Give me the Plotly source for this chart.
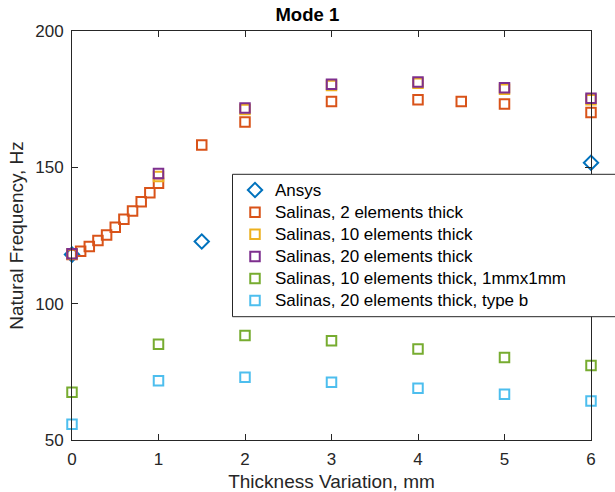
import plotly.graph_objects as go

# Thickness variation (mm) and first-mode natural frequency (Hz)
thickness_ansys = [0, 1.5, 6]
freq_ansys = [118.0, 122.8, 151.7]

thickness_2el = [0, 0.1, 0.2, 0.3, 0.4, 0.5, 0.6, 0.7, 0.8, 0.9, 1.0, 1.5, 2, 3, 4, 4.5, 5, 6]
freq_2el = [118.0, 119.2, 121.0, 123.2, 125.2, 128.0, 131.0, 134.0, 137.4, 140.7, 144.2,
            158.2, 166.6, 174.1, 174.8, 174.1, 173.2, 170.1]

thickness_fine = [0, 1, 2, 3, 4, 5, 6]
freq_10el = [118.2, 146.6, 171.2, 180.0, 180.8, 178.6, 174.8]
freq_20el = [118.3, 147.7, 171.8, 180.5, 181.3, 179.2, 175.3]
freq_10el_1mm = [67.5, 85.1, 88.3, 86.4, 83.4, 80.3, 77.3]
freq_20el_b = [55.8, 71.7, 73.0, 71.2, 69.0, 66.8, 64.3]

x_ticks = [0, 1, 2, 3, 4, 5, 6]
y_ticks = [50, 100, 150, 200]

FONT = "Liberation Sans, Arial, Helvetica, sans-serif"
INK = "#262626"

series = [
    ("Ansys", thickness_ansys, freq_ansys, "#0072BD", "diamond-open", 11),
    ("Salinas, 2 elements thick", thickness_2el, freq_2el, "#D95319", "square-open", 9.5),
    ("Salinas, 10 elements thick", thickness_fine, freq_10el, "#EDB120", "square-open", 9.5),
    ("Salinas, 20 elements thick", thickness_fine, freq_20el, "#7E2F8E", "square-open", 9.5),
    ("Salinas, 10 elements thick, 1mmx1mm", thickness_fine, freq_10el_1mm, "#77AC30", "square-open", 9.5),
    ("Salinas, 20 elements thick, type b", thickness_fine, freq_20el_b, "#4DBEEE", "square-open", 9.5),
]

fig = go.Figure()
for name, xs, ys, color, symbol, size in series:
    fig.add_trace(go.Scatter(
        x=xs, y=ys, mode="markers", cliponaxis=False,
        # legend rows are spaced by the legend font; the label itself is a bit larger
        name=f'<span style="font-size:17px">{name}</span>',
        marker=dict(symbol=symbol, size=size, color=color,
                    line=dict(color=color, width=2)),
    ))

axis_common = dict(
    showline=True, linecolor=INK, linewidth=1, mirror="ticks",
    ticks="inside", ticklen=6, tickwidth=1, tickcolor=INK,
    showgrid=False, zeroline=False, layer="above traces", automargin=False,
    tickfont=dict(family=FONT, size=17, color=INK),
)

fig.update_layout(
    width=615, height=492,
    margin=dict(l=72, r=24, t=31, b=52, pad=0, autoexpand=False),
    paper_bgcolor="white", plot_bgcolor="white",
    font=dict(family=FONT, color=INK),
    title=dict(text="<b>Mode 1</b>", x=0.4997, xanchor="center",
               y=1 - 15 / 492, yanchor="middle",
               font=dict(family=FONT, size=18.5, color="black")),
    xaxis=dict(range=[0, 6], tickvals=x_ticks, ticklabelstandoff=4,
               title=dict(text="Thickness Variation, mm", standoff=9,
                          font=dict(family=FONT, size=19, color=INK)),
               **axis_common),
    yaxis=dict(range=[50, 200], tickvals=y_ticks, ticklabelstandoff=4,
               title=dict(text="Natural Frequency, Hz", standoff=6,
                          font=dict(family=FONT, size=19, color=INK)),
               **axis_common),
    showlegend=True,
    legend=dict(x=(235 - 72) / 519, y=(440 - 174) / 409, xanchor="left", yanchor="top",
                bgcolor="rgba(0,0,0,0)", borderwidth=0, tracegroupgap=0,
                font=dict(family=FONT, size=14.7, color="black")),
    shapes=[dict(type="rect", xref="paper", yref="paper", layer="above",
                 x0=(232.5 - 72) / 519, x1=(640 - 72) / 519,
                 y0=(440 - 316.7) / 409, y1=(440 - 174.3) / 409,
                 fillcolor="white", line=dict(color=INK, width=1))],
)

fig.write_html("out.html")
